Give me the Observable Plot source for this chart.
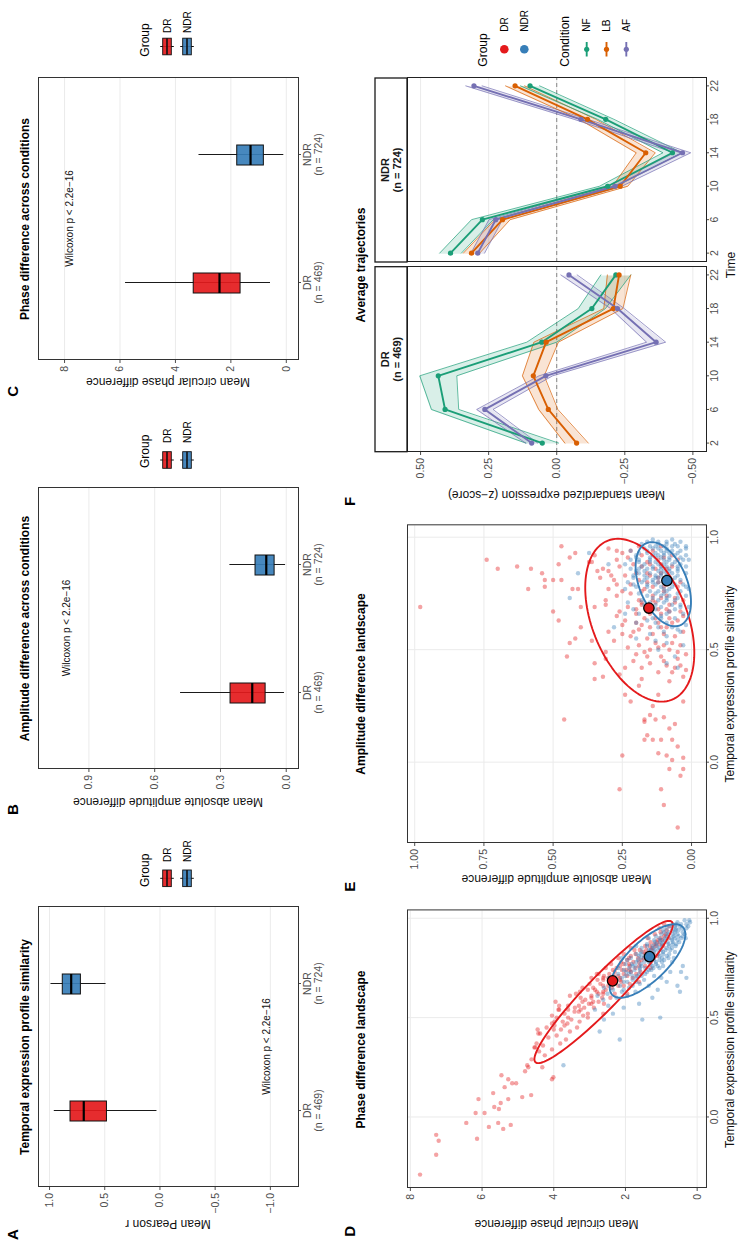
<!DOCTYPE html>
<html>
<head>
<meta charset="utf-8">
<script src="https://cdn.jsdelivr.net/npm/d3@7"></script>
<script src="https://cdn.jsdelivr.net/npm/@observablehq/plot@0.6"></script>
<style>
  html, body { margin: 0; padding: 0; background: #fff; width: 743px; height: 1246px; overflow: hidden; }
  #fig {
    position: absolute; left: 0; top: 0; width: 1246px; height: 743px;
    transform-origin: 0 0; transform: translateY(1246px) rotate(-90deg);
    background: #fff; font-family: "Liberation Sans", Arial, Helvetica, sans-serif;
  }
</style>
</head>
<body>
<div id="fig"></div>
<script>
// ---------- categories ----------
const groups = ["DR", "NDR"];
const groupN = [469, 724];
const groupColors = ["#E41A1C", "#377EB8"];
const conditions = ["NF", "LB", "AF"];
const conditionColors = ["#1B9E77", "#D95F02", "#7570B3"];
const times = [2, 6, 10, 14, 18, 22];

// ---------- boxplot summaries: [lower whisker, Q1, median, Q3, upper whisker] ----------
const pearsonDR = [0.027, 0.48, 0.69, 0.81, 0.957];
const pearsonNDR = [0.488, 0.716, 0.804, 0.88, 0.987];
const amplitudeDR = [0.008, 0.094, 0.155, 0.254, 0.482];
const amplitudeNDR = [0.003, 0.053, 0.091, 0.14, 0.257];
const phaseDR = [0.57, 1.65, 2.41, 3.34, 5.80];
const phaseNDR = [0.09, 0.81, 1.29, 1.77, 3.15];
const wilcoxonLabel = "Wilcoxon p < 2.2e\u221216";

// ---------- per-gene landscape points: [profile similarity r, value] ----------
const phasePointsDR = [
  [-0.29,7.73],[-0.09,7.28],[-0.12,7.21],[-0.19,7.28],[-0.03,6.44],[-0.11,6.14],[0.02,6.18],[0.02,5.93],
  [0.09,6.10],[-0.05,5.81],[0.12,5.69],[0.05,5.66],[0.04,5.53],[0.21,5.46],[0.07,5.48],[-0.03,5.55],
  [-0.06,5.41],[0.19,5.27],[0.09,5.27],[0.15,5.37],[-0.04,5.20],[0.17,5.16],[0.17,5.05],[0.10,4.88],
  [0.11,4.63],[0.23,4.80],[0.26,4.74],[0.25,4.71],[0.35,4.54],[0.42,4.43],[0.37,4.48],[0.25,4.32],
  [0.19,4.05],[0.20,4.01],[0.47,4.05],[0.48,3.98],[0.54,3.85],
  [0.29,4.62],[0.31,4.25],[0.33,4.41],
  [0.34,4.05],[0.36,4.30],[0.37,3.82],[0.35,4.52],
  [0.39,3.66],[0.40,4.15],[0.41,3.92],[0.42,4.38],[0.43,3.55],
  [0.44,3.80],[0.45,3.35],[0.46,3.98],[0.47,3.62],[0.45,4.20],[0.48,3.28],
  [0.49,3.51],[0.50,3.92],[0.51,3.18],[0.52,3.70],[0.50,3.05],[0.53,3.42],[0.51,4.05],
  [0.54,3.25],[0.55,2.88],[0.56,3.60],[0.57,3.02],[0.55,3.41],[0.58,2.75],[0.56,3.85],[0.57,2.60],
  [0.59,3.12],[0.60,2.65],[0.61,2.95],[0.62,3.38],[0.60,2.42],[0.63,2.80],[0.61,3.55],[0.62,2.30],[0.64,3.05],
  [0.64,2.55],[0.65,2.90],[0.66,2.20],[0.67,2.70],[0.65,3.20],[0.68,2.45],[0.66,2.05],[0.67,3.00],[0.69,2.62],[0.65,2.38],
  [0.69,2.15],[0.70,2.48],[0.71,1.95],[0.72,2.75],[0.70,1.80],[0.73,2.30],[0.71,2.60],[0.72,1.70],[0.74,2.10],[0.70,2.95],
  [0.74,1.88],[0.75,2.25],[0.76,1.62],[0.77,2.05],[0.75,2.55],[0.78,1.78],[0.76,1.45],[0.77,2.40],[0.79,1.95],[0.75,1.30],
  [0.79,1.55],[0.80,1.90],[0.81,1.35],[0.82,1.72],[0.80,2.20],[0.83,1.50],[0.81,1.12],[0.82,2.05],[0.84,1.28],
  [0.84,1.60],[0.85,1.25],[0.86,1.45],[0.87,1.05],[0.85,1.85],[0.88,1.30],[0.86,0.95],
  [0.89,1.10],[0.90,1.38],[0.91,0.92],[0.92,1.18],[0.90,0.80],[0.93,1.02],
  [0.94,0.85],[0.95,1.05],[0.96,0.78],[0.97,0.92],
  [0.63,2.62],[0.66,2.48],[0.68,2.30],[0.70,2.15],[0.72,2.45],[0.74,1.98],[0.76,2.15],[0.78,1.62],[0.80,1.65],[0.82,1.45],
  [0.64,2.85],[0.69,2.78],[0.71,2.32],[0.73,1.58],[0.77,1.90],[0.79,1.30],[0.84,1.42],[0.87,1.20],[0.60,2.95],[0.58,3.20],
  [0.55,3.15],[0.62,2.62],[0.67,1.88],[0.75,1.72],[0.81,1.85],[0.86,1.15],[0.89,0.98],[0.53,3.30],[0.48,3.75],[0.57,2.95],
  [0.54,3.87],[0.63,3.27],[0.72,2.80],[0.52,2.62],[0.58,3.95],[0.44,4.45],[0.62,1.95],[0.68,1.62],
  [0.66,2.62],[0.68,2.12],[0.70,2.62],[0.72,2.05],[0.74,2.35],[0.76,1.88],[0.78,2.12],[0.80,1.48],[0.82,1.22],[0.84,1.75],
  [0.86,1.32],[0.88,1.12],[0.90,1.02],[0.92,0.88],[0.62,2.75],[0.60,3.25],[0.58,2.90],[0.56,3.30],[0.54,3.60],[0.52,3.05],
  [0.50,3.60],[0.46,3.70],[0.44,4.00],[0.71,2.20],[0.73,1.85]
];
const phasePointsNDR = [
  [0.26,3.73],[0.39,2.16],[0.43,2.72],[0.49,2.60],[0.49,1.53],[0.50,1.03],[0.52,2.35],[0.55,2.05],[0.54,2.85],[0.57,1.62],[0.56,2.48],
  [0.59,2.62],[0.60,2.25],[0.61,1.95],[0.62,2.50],[0.60,1.25],[0.63,2.10],[0.61,2.78],[0.63,1.72],[0.63,0.48],
  [0.64,2.35],[0.65,1.90],[0.66,2.15],[0.67,1.60],[0.65,2.60],[0.68,2.05],[0.66,1.35],[0.67,2.40],[0.69,1.80],[0.64,1.10],[0.68,0.85],
  [0.69,2.25],[0.70,1.70],[0.71,2.00],[0.72,1.45],[0.70,2.45],[0.73,1.85],[0.71,1.20],[0.72,2.20],[0.74,1.60],[0.70,1.00],[0.73,0.75],[0.74,2.05],[0.71,1.55],
  [0.74,1.35],[0.75,1.90],[0.76,1.55],[0.77,1.15],[0.75,2.20],[0.78,1.70],[0.76,0.95],[0.77,2.00],[0.79,1.40],[0.75,1.05],[0.78,0.70],[0.76,1.80],[0.79,1.95],[0.77,1.30],
  [0.79,1.20],[0.80,1.55],[0.81,1.05],[0.82,1.40],[0.80,1.85],[0.83,1.20],[0.81,0.85],[0.82,1.70],[0.84,1.00],[0.80,0.65],[0.83,1.55],[0.81,1.30],[0.84,0.75],[0.82,0.95],[0.80,2.10],
  [0.84,1.35],[0.85,1.05],[0.86,1.25],[0.87,0.80],[0.85,1.55],[0.88,1.05],[0.86,0.60],[0.87,1.40],[0.89,0.90],[0.85,0.85],[0.88,0.50],[0.86,1.70],[0.87,1.15],[0.89,0.70],
  [0.89,1.20],[0.90,0.90],[0.91,0.65],[0.92,1.00],[0.90,0.45],[0.93,0.80],[0.91,1.15],[0.92,0.55],[0.94,0.70],[0.90,1.35],[0.93,0.40],[0.91,0.85],
  [0.94,0.95],[0.95,0.60],[0.96,0.75],[0.97,0.45],[0.95,0.30],[0.98,0.55],[0.96,0.25],[0.97,0.68],[0.99,0.35],[0.95,0.85],[0.98,0.20],
  [0.70,0.30],[0.73,0.45],[0.66,0.55],[0.76,0.40],
  [0.72,1.62],[0.74,1.28],[0.76,1.72],[0.78,1.48],[0.80,1.22],[0.82,1.08],[0.84,1.18],[0.86,0.98],[0.88,0.82],[0.90,0.72],
  [0.92,0.68],[0.94,0.52],[0.73,1.98],[0.75,1.60],[0.77,1.82],[0.79,1.65],[0.81,1.48],[0.83,1.32],[0.85,1.22],[0.87,0.98],
  [0.89,1.02],[0.91,0.52],[0.93,0.62],[0.96,0.48],[0.71,1.80],[0.78,1.15],[0.80,0.98],[0.84,0.88],[0.86,0.78],[0.88,0.68],
  [0.90,0.62],[0.69,1.48],[0.75,1.45],[0.79,0.92],[0.83,0.62],[0.87,0.58],[0.92,0.35],[0.97,0.30],[0.68,1.70],[0.82,1.58],
  [0.78,1.35],[0.80,1.42],[0.82,1.25],[0.84,1.08],[0.86,1.12],[0.88,0.95],[0.90,1.05],[0.92,0.82],[0.94,0.60],[0.96,0.62],
  [0.76,1.25],[0.74,1.75],[0.72,1.90],[0.70,2.10],[0.81,1.62],[0.83,0.95],[0.85,0.70],[0.87,0.68],[0.89,0.55],[0.91,0.40],
  [0.79,1.05],[0.77,1.58],[0.75,1.22],[0.73,1.40],[0.71,1.68],[0.82,0.78],[0.84,1.30],[0.86,1.40],[0.88,1.18],[0.90,0.32],
  [0.93,0.92],[0.95,0.42],[0.97,0.58],[0.99,0.22],[0.80,0.80],[0.78,0.98],[0.76,1.10],[0.68,1.95],[0.66,1.80],[0.64,2.05]
];
const ampPointsDR = [
  [0.69,0.98],[0.90,0.74],[0.86,0.70],[0.87,0.63],[0.86,0.58],[0.77,0.59],[0.84,0.54],[0.81,0.53],[0.78,0.53],[0.67,0.50],
  [0.63,0.48],[0.96,0.47],[0.88,0.48],[0.81,0.50],[0.81,0.47],[0.19,0.46],[0.47,0.45],[0.53,0.44],[0.91,0.44],[0.77,0.43],
  [0.55,0.42],[0.77,0.41],[0.69,0.40],[0.93,0.42],[0.60,0.40],[0.89,0.37],[0.54,0.36],[0.37,0.35],[0.44,0.35],[0.85,0.34],
  [0.38,0.32],[0.72,0.31],[0.49,0.31],[0.85,0.30],[-0.12,0.26],[0.03,0.25],[0.30,0.24],[0.42,0.24],[0.27,0.22],[0.68,0.20],
  [0.34,0.19],[0.19,0.17],[0.10,0.17],[0.18,0.17],[0.10,0.14],[0.25,0.14],[0.19,0.13],[0.30,0.12],[-0.12,0.11],[-0.19,0.10],
  [0.15,0.08],[-0.03,0.08],[0.10,0.07],[0.01,0.07],[0.17,0.06],[-0.29,0.05],[0.07,0.05],[-0.06,0.04],[0.27,0.03],[-0.03,0.03],
  [0.02,0.03],[0.10,0.11],[0.20,0.10],[0.03,0.09],[0.04,0.12],[0.12,0.16],[0.21,0.15],[0.42,0.18],
  [0.36,0.08],[0.38,0.03],[0.40,0.12],[0.42,0.06],[0.44,0.15],[0.37,0.18],[0.41,0.02],[0.43,0.09],[0.45,0.21],[0.39,0.26],
  [0.46,0.05],[0.47,0.11],[0.48,0.02],[0.49,0.17],[0.50,0.08],[0.51,0.23],[0.52,0.04],[0.53,0.13],[0.54,0.28],[0.46,0.31],
  [0.48,0.20],[0.52,0.10],[0.50,0.15],
  [0.56,0.06],[0.57,0.14],[0.58,0.03],[0.59,0.19],[0.60,0.09],[0.61,0.25],[0.62,0.12],[0.63,0.05],[0.64,0.17],[0.56,0.22],
  [0.58,0.30],[0.60,0.15],[0.62,0.20],[0.64,0.08],[0.57,0.10],[0.65,0.27],
  [0.66,0.11],[0.67,0.04],[0.68,0.16],[0.69,0.23],[0.70,0.08],[0.71,0.13],[0.72,0.19],[0.73,0.06],[0.74,0.27],[0.66,0.20],
  [0.68,0.09],[0.70,0.31],[0.72,0.03],[0.74,0.14],[0.67,0.26],[0.71,0.18],[0.73,0.11],[0.69,0.35],
  [0.76,0.10],[0.77,0.17],[0.78,0.05],[0.79,0.22],[0.80,0.12],[0.81,0.28],[0.82,0.08],[0.83,0.15],[0.84,0.20],[0.76,0.25],
  [0.78,0.14],[0.80,0.04],[0.82,0.33],[0.84,0.11],[0.77,0.30],[0.79,0.09],[0.81,0.19],[0.83,0.24],
  [0.86,0.13],[0.87,0.07],[0.88,0.21],[0.89,0.16],[0.90,0.27],[0.91,0.10],[0.92,0.18],[0.93,0.25],[0.94,0.14],[0.95,0.30],
  [0.86,0.32],[0.88,0.11],[0.90,0.05],[0.92,0.35],[0.94,0.22],[0.96,0.19],[0.87,0.26],[0.89,0.36],
  [0.60,0.11],[0.62,0.07],[0.64,0.13],[0.66,0.15],[0.68,0.12],[0.70,0.18],[0.72,0.14],[0.74,0.09],[0.76,0.18],[0.78,0.10],
  [0.80,0.16],[0.82,0.12],[0.84,0.16],[0.86,0.09],[0.88,0.15],[0.90,0.12],[0.92,0.07],[0.55,0.16],[0.53,0.07],[0.51,0.12],
  [0.49,0.05],[0.47,0.16],[0.45,0.10],[0.43,0.04],[0.58,0.21],[0.63,0.24],[0.67,0.08],[0.71,0.06],[0.75,0.22],[0.79,0.27],
  [0.83,0.29],[0.87,0.18],[0.91,0.23],[0.94,0.27],[0.96,0.11],[0.65,0.03],[0.61,0.18],[0.57,0.25],[0.52,0.19],[0.40,0.07]
];
const ampPointsNDR = [
  [0.84,0.41],[0.73,0.44],[0.93,0.37],[0.60,0.28],[0.88,0.30],[0.66,0.24],[0.55,0.20],[0.50,0.12],[0.47,0.06],[0.44,0.09],
  [0.52,0.03],[0.42,0.05],[0.57,0.15],[0.53,0.09],
  [0.59,0.05],[0.60,0.12],[0.61,0.02],[0.62,0.09],[0.63,0.16],[0.64,0.06],[0.65,0.11],[0.66,0.03],[0.62,0.20],[0.58,0.10],
  [0.64,0.14],[0.66,0.19],
  [0.67,0.08],[0.68,0.13],[0.69,0.04],[0.70,0.17],[0.71,0.10],[0.72,0.06],[0.73,0.14],[0.74,0.02],[0.68,0.21],[0.70,0.07],
  [0.72,0.18],[0.74,0.11],[0.67,0.15],[0.69,0.01],[0.71,0.23],[0.73,0.09],
  [0.75,0.05],[0.76,0.12],[0.77,0.08],[0.78,0.16],[0.79,0.03],[0.80,0.10],[0.81,0.14],[0.82,0.06],[0.75,0.19],[0.77,0.01],
  [0.79,0.21],[0.81,0.09],[0.76,0.15],[0.78,0.07],[0.80,0.18],[0.82,0.12],[0.75,0.10],[0.77,0.24],[0.79,0.13],[0.81,0.04],
  [0.83,0.09],[0.84,0.15],[0.85,0.05],[0.86,0.11],[0.87,0.18],[0.88,0.07],[0.89,0.13],[0.90,0.03],[0.83,0.21],[0.85,0.12],
  [0.87,0.02],[0.89,0.19],[0.84,0.07],[0.86,0.16],[0.88,0.24],[0.90,0.10],[0.83,0.13],[0.85,0.17],[0.87,0.09],[0.89,0.06],
  [0.91,0.08],[0.92,0.14],[0.93,0.05],[0.94,0.11],[0.95,0.17],[0.96,0.07],[0.97,0.12],[0.98,0.04],[0.91,0.20],[0.93,0.10],
  [0.95,0.02],[0.97,0.18],[0.92,0.06],[0.94,0.22],[0.96,0.13],[0.98,0.09],[0.91,0.15],[0.93,0.16],[0.95,0.09],[0.99,0.14],
  [0.78,0.11],[0.80,0.14],[0.82,0.09],[0.84,0.11],[0.86,0.08],[0.88,0.12],[0.90,0.15],[0.92,0.10],[0.94,0.07],[0.96,0.15],
  [0.79,0.06],[0.81,0.17],[0.83,0.05],[0.85,0.20],[0.87,0.14],[0.89,0.09],[0.91,0.04],[0.93,0.19],[0.95,0.12],[0.97,0.06],
  [0.76,0.09],[0.74,0.16],[0.72,0.12],[0.70,0.13],[0.68,0.06],[0.86,0.22],[0.90,0.19],[0.94,0.16],[0.84,0.02],[0.88,0.04],
  [0.92,0.02],[0.80,0.07],[0.78,0.20],[0.82,0.16],[0.86,0.05],[0.96,0.10],[0.98,0.16],[0.73,0.05],[0.71,0.15],[0.69,0.11],
  [0.80,0.12],[0.82,0.13],[0.84,0.09],[0.86,0.14],[0.88,0.10],[0.90,0.08],[0.92,0.12],[0.94,0.09],[0.96,0.05],[0.98,0.12],
  [0.81,0.07],[0.83,0.17],[0.85,0.10],[0.87,0.05],[0.89,0.15],[0.91,0.11],[0.93,0.08],[0.95,0.14],[0.97,0.09],[0.99,0.07],
  [0.75,0.13],[0.77,0.10],[0.79,0.16],[0.76,0.04],[0.78,0.02],[0.74,0.08],[0.72,0.09],[0.70,0.04],[0.66,0.09],[0.64,0.11],
  [0.62,0.13],[0.60,0.07],[0.58,0.04],[0.56,0.09],[0.54,0.13],[0.86,0.19],[0.88,0.17],[0.90,0.22],[0.92,0.20],[0.84,0.19],
  [0.82,0.21],[0.80,0.23],[0.94,0.04],[0.96,0.02],[0.90,0.01],[0.87,0.11],[0.85,0.08],[0.83,0.11],[0.91,0.13],[0.93,0.13]
];

// group centroids
const meanSimilarity = [0.685, 0.807];
const meanPhase = [2.36, 1.33];
const meanAmplitude = [0.154, 0.089];

// 95% ellipses: [centre x, centre y, half-extent x, half-extent y, correlation]
const phaseEllipseDR = [0.629, 2.61, 0.358, 1.93, -0.945];
const phaseEllipseNDR = [0.785, 1.385, 0.185, 1.055, -0.72];
const ampEllipseDR = [0.631, 0.187, 0.362, 0.197, 0.40];
const ampEllipseNDR = [0.791, 0.102, 0.187, 0.10, 0.42];

// ---------- average trajectories (mean z-score, standard error) ----------
const drNF = [0.053, 0.41, 0.435, 0.055, -0.129, -0.217];
const drLB = [-0.073, 0.031, 0.086, 0.039, -0.208, -0.229];
const drAF = [0.092, 0.264, 0.04, -0.365, -0.223, -0.045];
const drNFse = [0.06, 0.05, 0.068, 0.055, 0.05, 0.055];
const drLBse = [0.043, 0.035, 0.04, 0.045, 0.035, 0.043];
const drAFse = [0.022, 0.03, 0.025, 0.035, 0.025, 0.03];
const ndrNF = [0.39, 0.273, -0.187, -0.425, -0.18, 0.098];
const ndrLB = [0.313, 0.199, -0.233, -0.327, -0.113, 0.153];
const ndrAF = [0.29, 0.224, -0.214, -0.462, -0.089, 0.304];
const ndrNFse = [0.04, 0.04, 0.03, 0.035, 0.03, 0.035];
const ndrLBse = [0.03, 0.028, 0.028, 0.035, 0.03, 0.035];
const ndrAFse = [0.025, 0.025, 0.025, 0.03, 0.025, 0.03];

// ---------- drawing ----------
const FONT = '"Liberation Sans", Arial, Helvetica, sans-serif';
const fig = document.getElementById("fig");
const GRID = {stroke: "#ebebeb", strokeOpacity: 1, strokeWidth: 1};
const AXIS = {color: "#4d4d4d", tickSize: 3, label: null, fontSize: 10.5};
const colorScale = {domain: groups, range: groupColors};

function place(svg, left, top) {
  Object.assign(svg.style, {
    position: "absolute", left: left + "px", top: top + "px",
    background: "transparent", overflow: "visible", maxWidth: "none"
  });
  fig.appendChild(svg);
}

function framed(frame, m, options) {
  const [x0, y0, x1, y1] = frame;
  const svg = Plot.plot({
    width: x1 - x0 + m[3] + m[1], height: y1 - y0 + m[0] + m[2],
    marginTop: m[0], marginRight: m[1], marginBottom: m[2], marginLeft: m[3],
    style: {fontFamily: FONT, fontSize: "10.5px", color: "#333"},
    ...options
  });
  place(svg, x0 - m[3], y0 - m[0]);
}

function boxRows(dr, ndr) {
  return [dr, ndr].map((s, i) => ({group: groups[i], lo: s[0], q1: s[1], median: s[2], q3: s[3], hi: s[4]}));
}

function boxPanel(frame, stats, domain, ticks, fmt, pY) {
  framed(frame, [6, 6, 36, 46], {
    x: {type: "band", domain: groups, paddingInner: 0.84, paddingOuter: 0.515},
    y: {domain},
    color: colorScale,
    marks: [
      Plot.gridY(ticks, GRID),
      Plot.axisY({...AXIS, ticks, tickFormat: fmt, tickPadding: 3.5}),
      Plot.axisX({...AXIS, tickPadding: 1.5, lineHeight: 1.05,
        tickFormat: (d) => `${d}\n(n = ${groupN[groups.indexOf(d)]})`}),
      Plot.ruleX(stats, {x: "group", y1: "lo", y2: "hi", stroke: "#1a1a1a", strokeWidth: 1}),
      Plot.barY(stats, {x: "group", y1: "q1", y2: "q3", fill: "group", fillOpacity: 0.92, stroke: "#111", strokeWidth: 1}),
      Plot.tickY(stats, {x: "group", y: "median", stroke: "#000", strokeWidth: 2.2}),
      Plot.text([{label: wilcoxonLabel, y: pY}], {y: "y", text: "label", frameAnchor: "middle", fontSize: 10, fill: "#111"}),
      Plot.frame({stroke: "#333", strokeWidth: 1})
    ]
  });
}

boxPanel([59, 38, 339, 298], boxRows(pearsonDR, pearsonNDR), [-1.255, 1.1], [-1, -0.5, 0, 0.5, 1], d3.format(".1f"), -0.965);
boxPanel([477, 38, 758, 298], boxRows(amplitudeDR, amplitudeNDR), [-0.056, 1.13], [0, 0.3, 0.6, 0.9], d3.format(".1f"), 1.0);
boxPanel([886, 38, 1168, 298], boxRows(phaseDR, phaseNDR), [-0.44, 8.94], [0, 2, 4, 6, 8], d3.format("d"), 7.82);

function ellipse([cx, cy, ax, ay, rho], group) {
  const s = Math.sqrt(1 - rho * rho);
  return d3.range(0, 361, 3).map((a) => {
    const t = a * Math.PI / 180;
    return {group, x: cx + ax * Math.cos(t), y: cy + ay * (rho * Math.cos(t) + s * Math.sin(t))};
  });
}

function scatterPanel(frame, ptsDR, ptsNDR, xDomain, yDomain, yTicks, yFmt, means, ellDR, ellNDR) {
  const pts = [
    ...ptsDR.map(([x, y]) => ({group: "DR", x, y})),
    ...ptsNDR.map(([x, y]) => ({group: "NDR", x, y}))
  ];
  const centroids = groups.map((g, i) => ({group: g, x: meanSimilarity[i], y: means[i]}));
  framed(frame, [6, 6, 36, 46], {
    x: {domain: xDomain},
    y: {domain: yDomain},
    color: colorScale,
    marks: [
      Plot.gridX([0, 0.5, 1], GRID),
      Plot.gridY(yTicks, GRID),
      Plot.axisX({...AXIS, ticks: [0, 0.5, 1], tickFormat: d3.format(".1f"), tickPadding: 1.5}),
      Plot.axisY({...AXIS, ticks: yTicks, tickFormat: yFmt, tickPadding: 3.5}),
      Plot.dot(pts, {x: "x", y: "y", r: 2.2, fill: "group", fillOpacity: 0.4}),
      Plot.line(ellipse(ellDR, "DR"), {x: "x", y: "y", stroke: groupColors[0], strokeWidth: 1.9}),
      Plot.line(ellipse(ellNDR, "NDR"), {x: "x", y: "y", stroke: groupColors[1], strokeWidth: 1.9}),
      Plot.dot(centroids, {x: "x", y: "y", r: 5.2, fill: "group", stroke: "#000", strokeWidth: 1.3}),
      Plot.frame({stroke: "#333", strokeWidth: 1})
    ]
  });
}

scatterPanel([57.7, 407, 335.3, 706], phasePointsDR, phasePointsNDR, [-0.355, 1.042], [-0.26, 8.08],
  [0, 2, 4, 6, 8], d3.format("d"), meanPhase, phaseEllipseDR, phaseEllipseNDR);
scatterPanel([403.3, 407, 721, 706], ampPointsDR, ampPointsNDR, [-0.357, 1.055], [-0.054, 1.026],
  [0, 0.25, 0.5, 0.75, 1], d3.format(".2f"), meanAmplitude, ampEllipseDR, ampEllipseNDR);

function trajPanel(frame, means, ses, showY) {
  const rows = [];
  conditions.forEach((c, ci) => times.forEach((t, ti) =>
    rows.push({cond: c, time: t, mean: means[ci][ti], se: ses[ci][ti]})));
  const yTicks = [-0.5, -0.25, 0, 0.25, 0.5];
  const marks = [
    Plot.gridY(yTicks, GRID),
    Plot.ruleY([0], {stroke: "#7a7a7a", strokeWidth: 0.9, strokeDasharray: "4,3"}),
    Plot.areaY(rows, {x: "time", y1: (d) => d.mean - d.se, y2: (d) => d.mean + d.se, z: "cond", fill: "cond", fillOpacity: 0.17}),
    Plot.line(rows, {x: "time", y: (d) => d.mean - d.se, z: "cond", stroke: "cond", strokeWidth: 0.7}),
    Plot.line(rows, {x: "time", y: (d) => d.mean + d.se, z: "cond", stroke: "cond", strokeWidth: 0.7}),
    Plot.line(rows, {x: "time", y: "mean", z: "cond", stroke: "cond", strokeWidth: 1.9}),
    Plot.dot(rows, {x: "time", y: "mean", fill: "cond", r: 2.6}),
    Plot.axisX({...AXIS, ticks: times, tickFormat: d3.format("d"), tickPadding: 1.5}),
    Plot.frame({stroke: "#222", strokeWidth: 1})
  ];
  if (showY) marks.push(Plot.axisY({...AXIS, ticks: yTicks, tickFormat: d3.format(".2f"), tickPadding: 3.5}));
  framed(frame, [6, 6, 36, showY ? 46 : 6], {
    x: {domain: [1, 23]},
    y: {domain: [-0.55, 0.548], axis: showY ? undefined : null},
    color: {domain: conditions, range: conditionColors},
    marks
  });
}

trajPanel([794.3, 407, 979.3, 706], [drNF, drLB, drAF], [drNFse, drLBse, drAFse], true);
trajPanel([984, 407, 1168, 706], [ndrNF, ndrLB, ndrAF], [ndrNFse, ndrLBse, ndrAFse], false);

// ---------- titles, labels, strips and legends ----------
const overlay = d3.create("svg")
  .attr("width", 1246).attr("height", 743)
  .style("position", "absolute").style("left", "0px").style("top", "0px")
  .style("overflow", "visible").style("pointer-events", "none")
  .attr("font-family", FONT);
fig.appendChild(overlay.node());

function txt(s, x, y, {size = 12, weight = "normal", anchor = "start", rotate = false, fill = "#000"} = {}) {
  const t = overlay.append("text").text(s)
    .attr("font-size", size).attr("font-weight", weight)
    .attr("text-anchor", anchor).attr("fill", fill);
  if (rotate) t.attr("transform", `translate(${x},${y}) rotate(-90)`);
  else t.attr("x", x).attr("y", y);
  return t;
}

// panel tags
[["A", 6, 18.3], ["B", 431, 18.3], ["C", 849.3, 18.3], ["D", 9.3, 355], ["E", 354.3, 355], ["F", 740, 355]]
  .forEach(([s, x, y]) => txt(s, x, y, {size: 15, weight: "bold"}));

// panel titles
[["Temporal expression profile similarity", 199, 29.2],
 ["Amplitude difference across conditions", 617.5, 29.2],
 ["Phase difference across conditions", 1027, 29.2],
 ["Phase difference landscape", 196.5, 364.6],
 ["Amplitude difference landscape", 562, 364.6],
 ["Average trajectories", 981, 364.6]]
  .forEach(([s, x, y]) => txt(s, x, y, {size: 12, weight: "bold", anchor: "middle"}));

// axis titles
[["Mean Pearson r", 26.5, 168],
 ["Mean absolute amplitude difference", 448.5, 168],
 ["Mean circular phase difference", 868.5, 168],
 ["Mean circular phase difference", 26.5, 556.5],
 ["Mean absolute amplitude difference", 371, 556.5],
 ["Mean standardized expression (z\u2212score)", 755.5, 556.5]]
  .forEach(([s, x, y]) => txt(s, x, y, {anchor: "middle", rotate: true, fill: "#111"}));
[["Temporal expression profile similarity", 196.5, 733.5],
 ["Temporal expression profile similarity", 562, 733.5],
 ["Time", 981, 734.5]]
  .forEach(([s, x, y]) => txt(s, x, y, {anchor: "middle", fill: "#111"}));

// facet strips
[[794.3, 979.3, 0], [984, 1168, 1]].forEach(([x0, x1, i]) => {
  overlay.append("rect").attr("x", x0).attr("y", 375).attr("width", x1 - x0).attr("height", 32)
    .attr("fill", "#fff").attr("stroke", "#1a1a1a").attr("stroke-width", 1.3);
  const cx = (x0 + x1) / 2;
  txt(groups[i], cx, 389, {size: 11, weight: "bold", anchor: "middle", fill: "#1a1a1a"});
  txt(`(n = ${groupN[i]})`, cx, 401, {size: 11, weight: "bold", anchor: "middle", fill: "#1a1a1a"});
});

// boxplot legends
function boxLegend(titleX, keyX, labelX) {
  txt("Group", titleX, 148.6, {size: 12});
  groups.forEach((g, i) => {
    const cy = 167 + i * 20;
    const k = overlay.append("g").attr("stroke", "#111");
    k.append("line").attr("x1", keyX).attr("x2", keyX).attr("y1", cy - 6.8).attr("y2", cy + 6.8).attr("stroke-width", 1);
    k.append("rect").attr("x", keyX - 8.3).attr("y", cy - 4.3).attr("width", 16.6).attr("height", 8.6)
      .attr("fill", groupColors[i]).attr("fill-opacity", 0.92).attr("stroke-width", 0.9);
    k.append("line").attr("x1", keyX - 8.3).attr("x2", keyX + 8.3).attr("y1", cy).attr("y2", cy).attr("stroke-width", 1.6);
    txt(g, labelX, cy + 3.6, {size: 10});
  });
}
boxLegend(359, 367.7, 384);
boxLegend(778, 786, 803);
boxLegend(1189.3, 1199.5, 1213);

// trajectory legend
txt("Group", 1179.3, 486.6, {size: 12});
groups.forEach((g, i) => {
  const cy = 504.3 + i * 20;
  overlay.append("circle").attr("cx", 1196.7).attr("cy", cy).attr("r", 4.3).attr("fill", groupColors[i]);
  txt(g, 1214.3, cy + 3.6, {size: 10});
});
txt("Condition", 1179.3, 569, {size: 12});
conditions.forEach((c, i) => {
  const cy = 586.7 + i * 19.8;
  overlay.append("line").attr("x1", 1189.5).attr("x2", 1204).attr("y1", cy).attr("y2", cy)
    .attr("stroke", conditionColors[i]).attr("stroke-width", 1.9);
  overlay.append("circle").attr("cx", 1196.7).attr("cy", cy).attr("r", 2.6).attr("fill", conditionColors[i]);
  txt(c, 1214.3, cy + 3.6, {size: 10});
});
</script>
</body>
</html>
